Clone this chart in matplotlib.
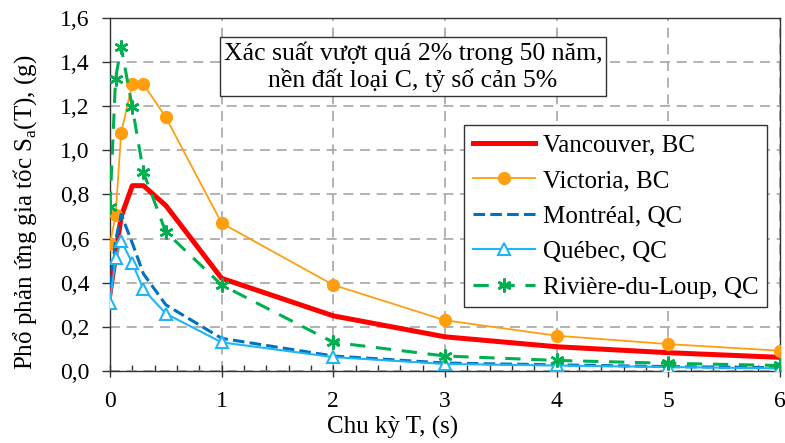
import matplotlib.pyplot as plt
from matplotlib.ticker import MultipleLocator, FuncFormatter

# Font: Times-like serif
plt.rcParams['font.family'] = ['Liberation Serif', 'DejaVu Serif']
plt.rcParams['mathtext.fontset'] = 'custom'
plt.rcParams['mathtext.rm'] = 'Liberation Serif'

# Data (chu ky T, s) and spectral acceleration (g)
periods = [0, 0.05, 0.1, 0.2, 0.3, 0.5, 1, 2, 3, 4, 5, 6]
vancouver = [0.35, 0.52, 0.70, 0.84, 0.84, 0.75, 0.42, 0.25, 0.155, 0.11, 0.083, 0.062]
victoria = [0.575, 0.705, 1.08, 1.30, 1.30, 1.15, 0.67, 0.39, 0.23, 0.16, 0.122, 0.092]
montreal = [0.38, 0.59, 0.71, 0.58, 0.44, 0.30, 0.148, 0.068, 0.036, 0.028, 0.02, 0.015]
quebec = [0.31, 0.51, 0.59, 0.49, 0.37, 0.26, 0.13, 0.063, 0.032, 0.025, 0.018, 0.012]
riviere = [0.745, 1.325, 1.47, 1.195, 0.90, 0.63, 0.39, 0.13, 0.068, 0.048, 0.035, 0.025]

labels = ['Vancouver, BC', 'Victoria, BC', 'Montréal, QC', 'Québec, QC', 'Rivière-du-Loup, QC']
note = 'Xác suất vượt quá 2% trong 50 năm,\nnền đất loại C, tỷ số cản 5%'

fig = plt.figure(figsize=(7.85, 4.43), dpi=100)
ax = fig.add_axes([0.1401, 0.1625, 0.8535, 0.7969])

ax.plot(periods, vancouver, color='#FF0000', lw=3.6, label=labels[0], zorder=3)
ax.plot(periods, victoria, color='#FF9E0F', lw=1.3, marker='o', ms=8.5,
        label=labels[1], zorder=3)
ax.plot(periods, montreal, color='#0070C0', lw=2.2, ls=(0, (3.8, 1.7)),
        label=labels[2], zorder=4)
ax.plot(periods, quebec, color='#1FB5F5', lw=1.5, marker='^', ms=9, mfc='white',
        mew=1.5, label=labels[3], zorder=4)
ax.plot(periods, riviere, color='#00B050', lw=2.2, ls=(0, (5, 3.5)), marker=(6, 2, 0),
        ms=10, mew=1.8, label=labels[4], zorder=5)

ax.set_xlim(0, 6)
ax.set_ylim(0, 1.6)
ax.xaxis.set_major_locator(MultipleLocator(1))
ax.xaxis.set_minor_locator(MultipleLocator(0.2))
ax.yaxis.set_major_locator(MultipleLocator(0.2))
ax.yaxis.set_major_formatter(FuncFormatter(lambda v, p: f'{v:.1f}'.replace('.', ',')))

ax.grid(True, which='major', color='#A6A6A6', ls=(0, (6, 4)), lw=1.2)
ax.set_axisbelow(True)
for s in ax.spines.values():
    s.set_color('#333333')
    s.set_linewidth(1.0)

ax.tick_params(axis='x', which='major', direction='inout', length=9, width=1,
               color='#333333', labelsize=17, pad=10)
ax.tick_params(axis='x', which='minor', direction='in', length=4.5, width=1,
               color='#333333')
ax.tick_params(axis='y', which='major', direction='out', length=6, width=1,
               color='#333333', labelsize=17, pad=9)

ax.set_xlabel('Chu kỳ T, (s)', fontsize=18, va='top')
ax.xaxis.set_label_coords(0.422, -0.126)
ax.set_ylabel('Phổ phản ứng gia tốc S$_\\mathregular{a}$(T), (g)', fontsize=18, va='center')
ax.yaxis.set_label_coords(-0.127, 0.45)

ax.text(0.452, 0.862, note, transform=ax.transAxes, ha='center', va='center',
        fontsize=18.5, linespacing=1.2,
        bbox=dict(boxstyle='square,pad=0.15', fc='white', ec='#333333', lw=1))

leg = ax.legend(loc='upper right', bbox_to_anchor=(0.981, 0.696), fontsize=18,
                frameon=True, fancybox=False, framealpha=1, edgecolor='#333333',
                handlelength=2.5, handletextpad=0.3, labelspacing=0.52,
                borderpad=0.35, borderaxespad=0)
leg.get_frame().set_linewidth(1)

fig.savefig('out.png', dpi=100)
